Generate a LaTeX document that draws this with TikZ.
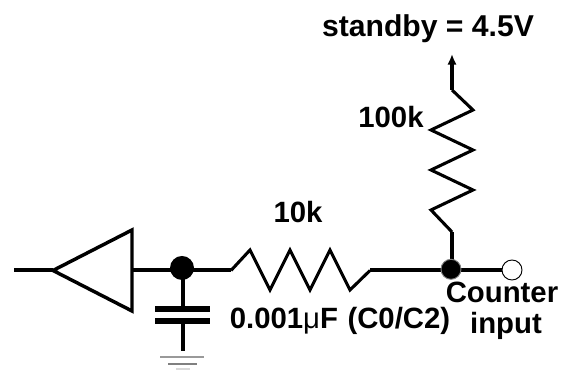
\documentclass[tikz,border=0pt]{standalone}
\usepackage{fontspec}
\setmainfont{Liberation Sans}
\usetikzlibrary{arrows.meta}
\tikzset{
wire/.style={line width=3pt,line join=miter},
amp/.style={line width=2.6pt,line join=miter},
zig/.style={line width=2.3pt,line join=miter},
plate/.style={line width=5.2pt},
gnd/.style={line width=1.2pt},
lbl/.style={font=\fontsize{22}{26}\selectfont\bfseries,align=center,inner sep=0pt}
}
\begin{document}
\begin{tikzpicture}[x=0.75pt,y=0.75pt]
\useasboundingbox (0,0) rectangle (576,370);
\coordinate (in) at (14,99.5);
\coordinate (tip) at (53,99.5);
\coordinate (btop) at (132,140);
\coordinate (bbot) at (132,59);
\coordinate (bmid) at (132,99.5);
\coordinate (jleft) at (183,99.5);
\coordinate (rleft) at (231,99.5);
\coordinate (rright) at (370,99.5);
\coordinate (jright) at (452,99.5);
\coordinate (jout) at (512,99.5);
\coordinate (vbot) at (452,138);
\coordinate (vtop) at (452,280);
\coordinate (arrowend) at (452,316);
\draw[wire](in)--(tip);
\draw[amp](tip)--(btop)--(bbot)--cycle;
\draw[wire](bmid)--(rleft);
\draw[zig](rleft)--(250,120)--(270,80)--(290,120)--(310,80)--(330,120)--(350,80)--(rright);
\draw[wire](rright)--(jout);
\draw[wire](jright)--(vbot);
\draw[zig](vbot)--(431,160)--(473,180)--(431,200)--(473,220)--(431,240)--(473,260)--(vtop);
\draw[wire,-{Latex[length=8pt,width=7pt]}](vtop)--(arrowend);
% capacitor
\coordinate (capA) at (183,61);
\coordinate (capB) at (183,49);
\coordinate (gndtop) at (183,19);
\draw[wire](jleft)--(capA);
\draw[wire](capB)--(gndtop);
\draw[plate](155,61)--(210,61);
\draw[plate](155,49)--(210,49);
\draw[gnd,draw=gray!80](160,13)--(204,13);
\draw[gnd,draw=gray](168,6)--(197,6);
\draw[gnd,draw=gray!30](176,1)--(190,1);
\node (dotL) at (182,102)[circle,fill=black,minimum size=18pt,inner sep=0pt]{};
\node (dotR) at (451,100.7)[circle,fill=black,draw=gray,line width=0.7pt,minimum size=15pt,inner sep=0pt]{};
\node (out) at (512,100)[circle,fill=white,draw=black,line width=0.7pt,minimum size=15pt,inner sep=0pt]{};
\node (vlbl) at (428,341)[lbl,font=\fontsize{22.6}{26}\selectfont\bfseries]{standby = 4.5V};
\node (rtop) at (391,253)[lbl]{100k};
\node (rbot) at (298,157.5)[lbl]{10k};
\node (clbl) at (340,49)[lbl]{0.001{\mdseries μ}F\hspace{1pt} (C0/C2)};
\node (cntlbl) at (502,78)[lbl]{Counter};
\node (inplbl) at (506,44)[lbl]{input};
\end{tikzpicture}
\end{document}
